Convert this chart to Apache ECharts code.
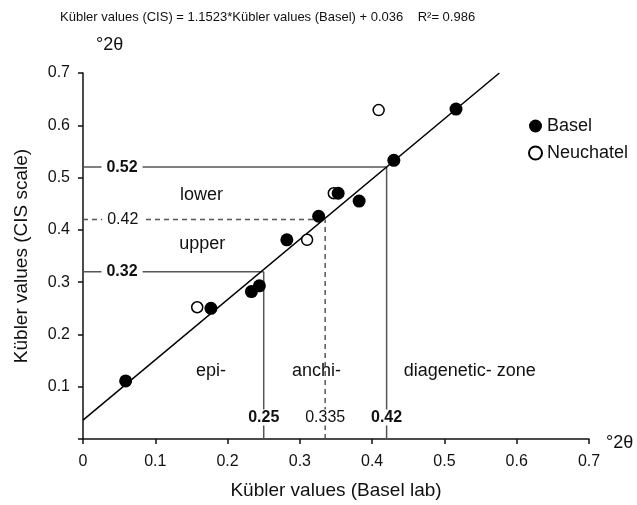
<!DOCTYPE html>
<html>
<head>
<meta charset="utf-8">
<script src="https://cdn.jsdelivr.net/npm/echarts@6/dist/echarts.min.js"></script>
<style>
html,body{margin:0;padding:0;background:#fff;}
#chart{width:637px;height:505px;}
</style>
</head>
<body>
<div id="chart"></div>
<script>
// ---------- data ----------
const basel = [
  [0.059, 0.111], [0.177, 0.250], [0.233, 0.282], [0.244, 0.293],
  [0.282, 0.381], [0.326, 0.426], [0.353, 0.470], [0.382, 0.455],
  [0.430, 0.533], [0.516, 0.631]
];
const neuchatel = [
  [0.158, 0.252], [0.310, 0.381], [0.347, 0.470], [0.409, 0.629]
];
const regression = [[0, 0.036], [0.576, 0.7]];
const solidGuides = [
  [[0, 0.52], [0.42, 0.52]],
  [[0, 0.32], [0.25, 0.32]],
  [[0.25, 0], [0.25, 0.32]],
  [[0.42, 0], [0.42, 0.52]]
];
const dashedGuides = [
  [[0, 0.42], [0.335, 0.42]],
  [[0.335, 0], [0.335, 0.42]]
];
const boldValueLabels = [['0.52', 0.054, 0.52], ['0.32', 0.054, 0.32], ['0.25', 0.25, 0.041], ['0.42', 0.42, 0.041]];
const plainValueLabels = [['0.42', 0.055, 0.42], ['0.335', 0.335, 0.041]];
const zoneLabels = [['lower', 0.164, 0.466], ['upper', 0.165, 0.373], ['epi-', 0.177, 0.130], ['anchi-', 0.323, 0.130], ['diagenetic- zone', 0.535, 0.130]];
const titleText = 'Kübler values (CIS) = 1.1523*Kübler values (Basel) + 0.036    R²= 0.986';
const xName = 'Kübler values (Basel lab)';
const yName = 'Kübler values (CIS scale)';
const unitName = '°2θ';

// ---------- chart ----------
const FONT = '"Liberation Sans", Arial, sans-serif';
const TXT = '#111';
const chart = echarts.init(document.getElementById('chart'), null, {renderer: 'canvas'});

const guideSeries = [];
solidGuides.forEach(seg => guideSeries.push({
  type: 'line', data: seg, symbol: 'none', silent: true, z: 1,
  lineStyle: {color: '#555', width: 1.5, type: 'solid'}
}));
dashedGuides.forEach(seg => guideSeries.push({
  type: 'line', data: seg, symbol: 'none', silent: true, z: 1,
  lineStyle: {color: '#555', width: 1.5, type: [5, 4]}
}));

function textSeries(list, weight, size, bg) {
  return {
    type: 'scatter', silent: true, z: 3, symbolSize: 1,
    itemStyle: {color: 'rgba(0,0,0,0)', opacity: 1},
    data: list.map(d => ({value: [d[1], d[2]], name: d[0]})),
    label: {
      show: true, position: 'inside', formatter: p => p.name,
      fontFamily: FONT, fontSize: size, fontWeight: weight, color: TXT, opacity: 1,
      backgroundColor: bg ? '#fff' : 'transparent', padding: bg ? [0, 5] : 0
    }
  };
}

const option = {
  animation: false,
  backgroundColor: '#fff',
  textStyle: {fontFamily: FONT},
  title: {
    text: titleText, left: 55, top: 6,
    textStyle: {fontFamily: FONT, fontSize: 13, fontWeight: 'normal', color: TXT}
  },
  legend: {
    orient: 'vertical', left: 523, top: 112, itemGap: 9,
    itemWidth: 13, itemHeight: 13,
    textStyle: {fontFamily: FONT, fontSize: 18, color: TXT},
    data: [{name: 'Basel', icon: 'circle'}, {name: 'Neuchatel', icon: 'circle'}]
  },
  grid: {left: 83, right: 48, top: 73, bottom: 63, containLabel: false},
  xAxis: {
    type: 'value', min: 0, max: 0.7, interval: 0.1,
    name: xName, nameLocation: 'middle', nameGap: 42,
    nameTextStyle: {fontFamily: FONT, fontSize: 19, color: TXT},
    axisLine: {lineStyle: {color: '#111', width: 1.5}},
    axisTick: {lineStyle: {color: '#111', width: 1.5}, length: 5},
    axisLabel: {fontFamily: FONT, fontSize: 16, color: TXT, margin: 15,
      formatter: v => String(+v.toFixed(1))},
    splitLine: {show: false}
  },
  yAxis: {
    type: 'value', min: 0, max: 0.7, interval: 0.1,
    name: yName, nameLocation: 'middle', nameGap: 52,
    nameTextStyle: {fontFamily: FONT, fontSize: 19, color: TXT},
    axisLine: {lineStyle: {color: '#111', width: 1.5}},
    axisTick: {lineStyle: {color: '#111', width: 1.5}, length: 5},
    axisLabel: {fontFamily: FONT, fontSize: 16, color: TXT, margin: 13,
      formatter: v => v === 0 ? '' : String(+v.toFixed(1))},
    splitLine: {show: false}
  },
  graphic: [
    {type: 'text', left: 96, top: 36, style: {text: unitName, font: '18px ' + FONT, fill: TXT}},
    {type: 'text', left: 606, top: 434, style: {text: unitName, font: '18px ' + FONT, fill: TXT}}
  ],
  series: [
    ...guideSeries,
    {
      type: 'line', data: regression, symbol: 'none', silent: true, z: 2,
      lineStyle: {color: '#000', width: 1.5}
    },
    textSeries(boldValueLabels, 'bold', 16, true),
    textSeries(plainValueLabels, 'normal', 16, true),
    textSeries(zoneLabels, 'normal', 18, false),
    {
      name: 'Neuchatel', type: 'scatter', data: neuchatel, symbol: 'circle', symbolSize: 11, z: 4,
      itemStyle: {color: '#fff', borderColor: '#000', borderWidth: 1.5, opacity: 1}
    },
    {
      name: 'Basel', type: 'scatter', data: basel, symbol: 'circle', symbolSize: 13, z: 5,
      itemStyle: {color: '#000', opacity: 1}
    }
  ]
};
chart.setOption(option);
</script>
</body>
</html>
